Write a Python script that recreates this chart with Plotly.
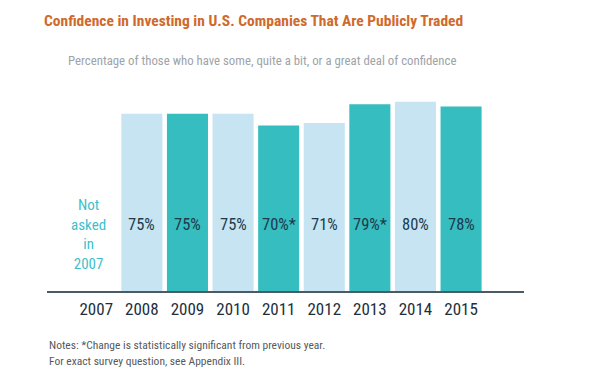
import plotly.graph_objects as go

years = ["2007", "2008", "2009", "2010", "2011", "2012", "2013", "2014", "2015"]
values = [None, 75, 75, 75, 70, 71, 79, 80, 78]
labels = ["", "75%", "75%", "75%", "70%*", "71%", "79%*", "80%", "78%"]
bar_colors = ["#C6E4F2", "#C6E4F2", "#35BDBF", "#C6E4F2", "#35BDBF",
              "#C6E4F2", "#35BDBF", "#C6E4F2", "#35BDBF"]
label_y = 28
note_y = 24.0

FONT = "Roboto Condensed, Roboto, sans-serif"

fig = go.Figure()
fig.add_trace(go.Bar(
    x=years, y=[v if v is not None else 0 for v in values],
    marker=dict(color=bar_colors, line=dict(width=0)),
    hoverinfo="skip",
))

for i, lab in enumerate(labels):
    if lab:
        fig.add_annotation(x=i, y=label_y, text=lab, showarrow=False,
                           font=dict(family=FONT, size=16.5, color="#1E3A4C"),
                           xanchor="center", yanchor="middle")

fig.add_annotation(x=0, y=note_y, xshift=-8, text="Not<br>asked<br>in<br>2007",
                   showarrow=False, align="center",
                   font=dict(family=FONT, size=15, color="#3DBFCB"),
                   xanchor="center", yanchor="middle")

fig.add_annotation(xref="paper", yref="paper", x=-0.0105, y=1.0, yshift=69,
                   text="<b>Confidence in Investing in U.S. Companies That Are Publicly Traded</b>",
                   showarrow=False, xanchor="left", yanchor="middle",
                   font=dict(family=FONT, size=15.5, color="#CF6A2C"))
fig.add_annotation(xref="paper", yref="paper", x=0.04, y=1.0, yshift=30,
                   text="Percentage of those who have some, quite a bit, or a great deal of confidence",
                   showarrow=False, xanchor="left", yanchor="middle",
                   font=dict(family=FONT, size=12.8, color="#9EA3A8"))
fig.add_annotation(xref="paper", yref="paper", x=0.0, y=0.0, yshift=-54,
                   text="Notes: *Change is statistically significant from previous year.",
                   showarrow=False, xanchor="left", yanchor="middle",
                   font=dict(family=FONT, size=11.5, color="#55595E"))
fig.add_annotation(xref="paper", yref="paper", x=0.0, y=0.0, yshift=-70,
                   text="For exact survey question, see Appendix III.",
                   showarrow=False, xanchor="left", yanchor="middle",
                   font=dict(family=FONT, size=11.5, color="#55595E"))

fig.update_layout(
    width=586, height=376,
    margin=dict(l=39, r=70, t=82, b=93),
    paper_bgcolor="white", plot_bgcolor="white",
    bargap=0.1, showlegend=False,
    xaxis=dict(type="category", range=[-1.08, 9.38], showgrid=False,
               showline=True, linecolor="#4A5A66", linewidth=2,
               ticks="", ticklabelstandoff=2,
               tickfont=dict(family=FONT, size=17, color="#1E2E3C")),
    yaxis=dict(range=[0, 85], visible=False, showgrid=False),
)

fig.write_html("out.html")
